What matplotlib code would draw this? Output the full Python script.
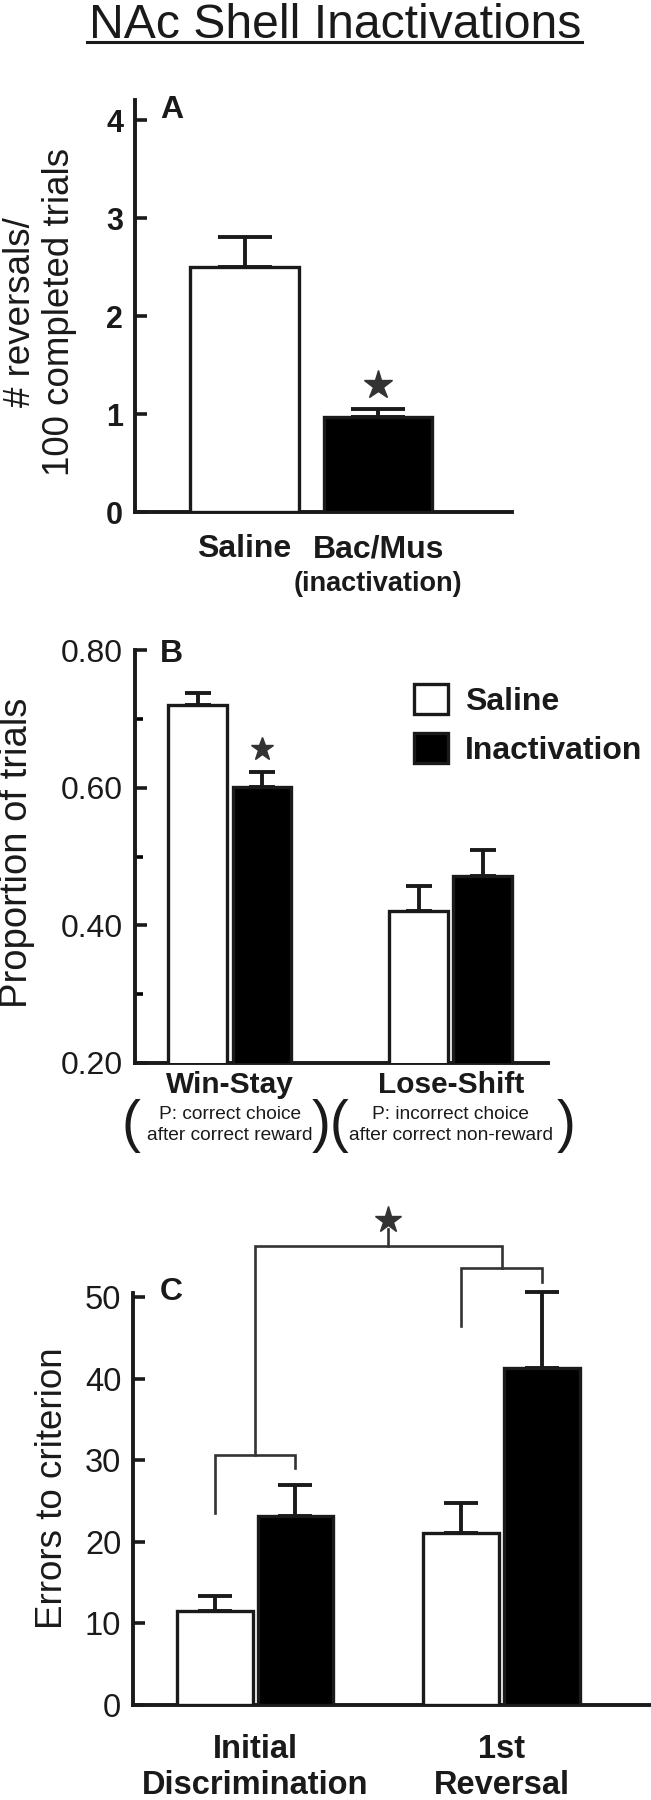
import matplotlib
matplotlib.use("Agg")
import matplotlib.pyplot as plt
import numpy as np
from matplotlib.patches import Patch
from matplotlib.lines import Line2D
from matplotlib.ticker import FormatStrFormatter
from matplotlib.transforms import blended_transform_factory

plt.rcParams['font.family'] = ['Liberation Sans', 'DejaVu Sans']

# ---- data ----
title = 'NAc Shell Inactivations'

# A: reversals per 100 completed trials
a_groups = ['Saline', 'Bac/Mus']
a_sub = '(inactivation)'
a_means = [2.50, 0.97]
a_sems = [0.31, 0.08]
a_ylabel = '# reversals/\n100 completed trials'
a_ticks = [0, 1, 2, 3, 4]

# B: win-stay / lose-shift
b_groups = ['Win-Stay', 'Lose-Shift']
b_notes = ['P: correct choice\nafter correct reward',
           'P: incorrect choice\nafter correct non-reward']
b_saline = [0.720, 0.421]
b_saline_sem = [0.017, 0.036]
b_inact = [0.601, 0.471]
b_inact_sem = [0.022, 0.039]
b_legend = ['Saline', 'Inactivation']
b_ylabel = 'Proportion of trials'
b_ticks = [0.20, 0.40, 0.60, 0.80]
b_minor = [0.30, 0.50, 0.70]

# C: errors to criterion
c_groups = ['Initial\nDiscrimination', '1st\nReversal']
c_saline = [11.5, 21.1]
c_saline_sem = [1.9, 3.6]
c_inact = [23.2, 41.3]
c_inact_sem = [3.8, 9.3]
c_ylabel = 'Errors to criterion'
c_ticks = [0, 10, 20, 30, 40, 50]

INK = '#1a1a1a'
GREY = '#333333'
W, H = 651, 1800

fig = plt.figure(figsize=(W / 100, H / 100), dpi=100)


def fx(px):
    return px / W


def fy(py):
    return 1 - py / H


def add_panel(x0, x1, top, bottom):
    return fig.add_axes([fx(x0), fy(bottom), (x1 - x0) / W, (bottom - top) / H])


def style(ax, fs, bold=False):
    for s in ['top', 'right']:
        ax.spines[s].set_visible(False)
    for s in ['left', 'bottom']:
        ax.spines[s].set_linewidth(2.8)
        ax.spines[s].set_color(INK)
        ax.spines[s].set_capstyle('projecting')
    ax.tick_params(axis='y', which='major', direction='in', length=8.5, width=2.6,
                   pad=8.5, labelsize=fs, colors=INK)
    ax.tick_params(axis='y', which='minor', direction='in', length=5.5, width=2.6)
    ax.tick_params(axis='x', length=0, colors=INK)
    if bold:
        for t in ax.get_yticklabels():
            t.set_fontweight('bold')


def up_errors(ax, x, y, e, capsize):
    eb = ax.errorbar(x, y, yerr=[np.zeros(len(e)), e], fmt='none', ecolor=INK,
                     elinewidth=2.8, capsize=capsize, capthick=2.8, zorder=2)
    for art in eb.get_children():
        art.set_clip_on(False)


# title with underline
fig.text(fx(335.5), fy(3), title, ha='center', va='top', fontsize=34.7, color=INK)
fig.add_artist(Line2D([fx(87), fx(582)], [fy(42), fy(42)], transform=fig.transFigure,
                      lw=2.2, color=INK))

# ---------------- panel A ----------------
axA = add_panel(135, 512, 100.4, 512)
xa = np.arange(len(a_groups))
axA.bar(xa, a_means, width=0.81, color=['white', 'black'], edgecolor=INK,
        linewidth=2.4, zorder=3)
up_errors(axA, xa, a_means, a_sems, 19.5)
axA.plot(xa[1], a_means[1] + a_sems[1] + 0.25, marker='*', ms=21, color=GREY,
         clip_on=False, zorder=4)
axA.set_xlim(-0.82, 2.0)
axA.set_ylim(0, 4.2)
axA.set_yticks(a_ticks)
axA.set_xticks(xa, a_groups, fontsize=23, fontweight='bold')
style(axA, 22, bold=True)
axA.tick_params(axis='x', pad=16)
trA = blended_transform_factory(axA.transData, fig.transFigure)
axA.text(xa[1], fy(571), a_sub, transform=trA, ha='center', va='top',
         fontsize=19.5, fontweight='bold', color=INK)
fig.text(fx(160), fy(118), 'A', fontsize=23, fontweight='bold', va='baseline', color=INK)
fig.text(fx(40), fy(312), a_ylabel, rotation=90, ha='center', va='center',
         multialignment='center', fontsize=26.5, linespacing=1.15, color=INK)

# ---------------- panel B ----------------
axB = add_panel(135, 548, 650, 1063)
xb = np.arange(len(b_groups))
offB, wB = 0.145, 0.267
axB.bar(xb - offB, b_saline, wB, color='white', edgecolor=INK, linewidth=2.4, zorder=3)
axB.bar(xb + offB, b_inact, wB, color='black', edgecolor=INK, linewidth=2.4, zorder=3)
up_errors(axB, xb - offB, b_saline, b_saline_sem, 9.5)
up_errors(axB, xb + offB, b_inact, b_inact_sem, 9.5)
axB.plot(xb[0] + offB, b_inact[0] + b_inact_sem[0] + 0.033, marker='*', ms=17,
         color=GREY, zorder=4)
axB.set_xlim(-0.43, 1.44)
axB.set_ylim(0.2, 0.8)
axB.set_yticks(b_ticks)
axB.set_yticks(b_minor, minor=True)
axB.yaxis.set_major_formatter(FormatStrFormatter('%.2f'))
axB.set_xticks(xb, b_groups, fontsize=21.5, fontweight='bold')
style(axB, 23)
axB.tick_params(axis='x', pad=6)
leg = axB.legend([Patch(facecolor='white', edgecolor=INK, linewidth=2.4),
                  Patch(facecolor='black', edgecolor=INK, linewidth=2.4)],
                 b_legend, loc='upper left', bbox_to_anchor=(fx(414), fy(684)),
                 bbox_transform=fig.transFigure, frameon=False, borderpad=0,
                 borderaxespad=0, handlelength=1.06, handleheight=1.06,
                 handletextpad=0.53, labelspacing=0.5,
                 prop={'size': 23, 'weight': 'bold'})
for t in leg.get_texts():
    t.set_color(INK)
trB = blended_transform_factory(axB.transData, fig.transFigure)
for x, note in zip(xb, b_notes):
    axB.text(x, fy(1106), note, transform=trB, ha='center', va='top', fontsize=13.8,
             linespacing=1.3, color=INK)
# large brackets round the two notes
for px, sym in [(131, '('), (331, ')('), (566, ')')]:
    fig.text(fx(px), fy(1099), sym, ha='center', va='top', fontsize=41,
             family=['Liberation Sans Narrow', 'Liberation Sans'], color=INK)
fig.text(fx(160), fy(662), 'B', fontsize=23, fontweight='bold', va='baseline', color=INK)
fig.text(fx(17), fy(853), b_ylabel, rotation=90, ha='center', va='center',
         fontsize=27.5, color=INK)

# ---------------- panel C ----------------
axC = add_panel(133, 651, 1293, 1705)
xc = np.arange(len(c_groups))
offC, wC = 0.164, 0.308
axC.bar(xc - offC, c_saline, wC, color='white', edgecolor=INK, linewidth=2.4, zorder=3)
axC.bar(xc + offC, c_inact, wC, color='black', edgecolor=INK, linewidth=2.4, zorder=3)
up_errors(axC, xc - offC, c_saline, c_saline_sem, 12.5)
up_errors(axC, xc + offC, c_inact, c_inact_sem, 12.5)


def bracket(ax, x0, x1, y0, y1, ytop):
    ax.plot([x0, x0, x1, x1], [y0, ytop, ytop, y1], color=GREY, lw=1.9,
            clip_on=False, solid_joinstyle='miter')


bracket(axC, xc[0] - offC, xc[0] + offC, 23.5, 29.0, 30.7)
bracket(axC, xc[1] - offC, xc[1] + offC, 46.4, 51.8, 53.6)
bracket(axC, xc[0], xc[1], 30.7, 53.6, 56.2)
axC.plot([0.54, 0.54], [56.2, 58.3], color=GREY, lw=1.9, clip_on=False)
axC.plot(0.54, 59.5, marker='*', ms=20, color=GREY, clip_on=False)
axC.set_xlim(-0.495, 1.606)
axC.set_ylim(0, 50.5)
axC.set_yticks(c_ticks)
axC.set_xticks(xc, c_groups, fontsize=23.5, fontweight='bold', linespacing=1.2)
style(axC, 23.5)
axC.tick_params(axis='x', pad=21)
fig.text(fx(160), fy(1300), 'C', fontsize=23, fontweight='bold', va='baseline', color=INK)
fig.text(fx(53), fy(1488), c_ylabel, rotation=90, ha='center', va='center',
         fontsize=26.5, color=INK)

fig.savefig('out.png', dpi=100)
